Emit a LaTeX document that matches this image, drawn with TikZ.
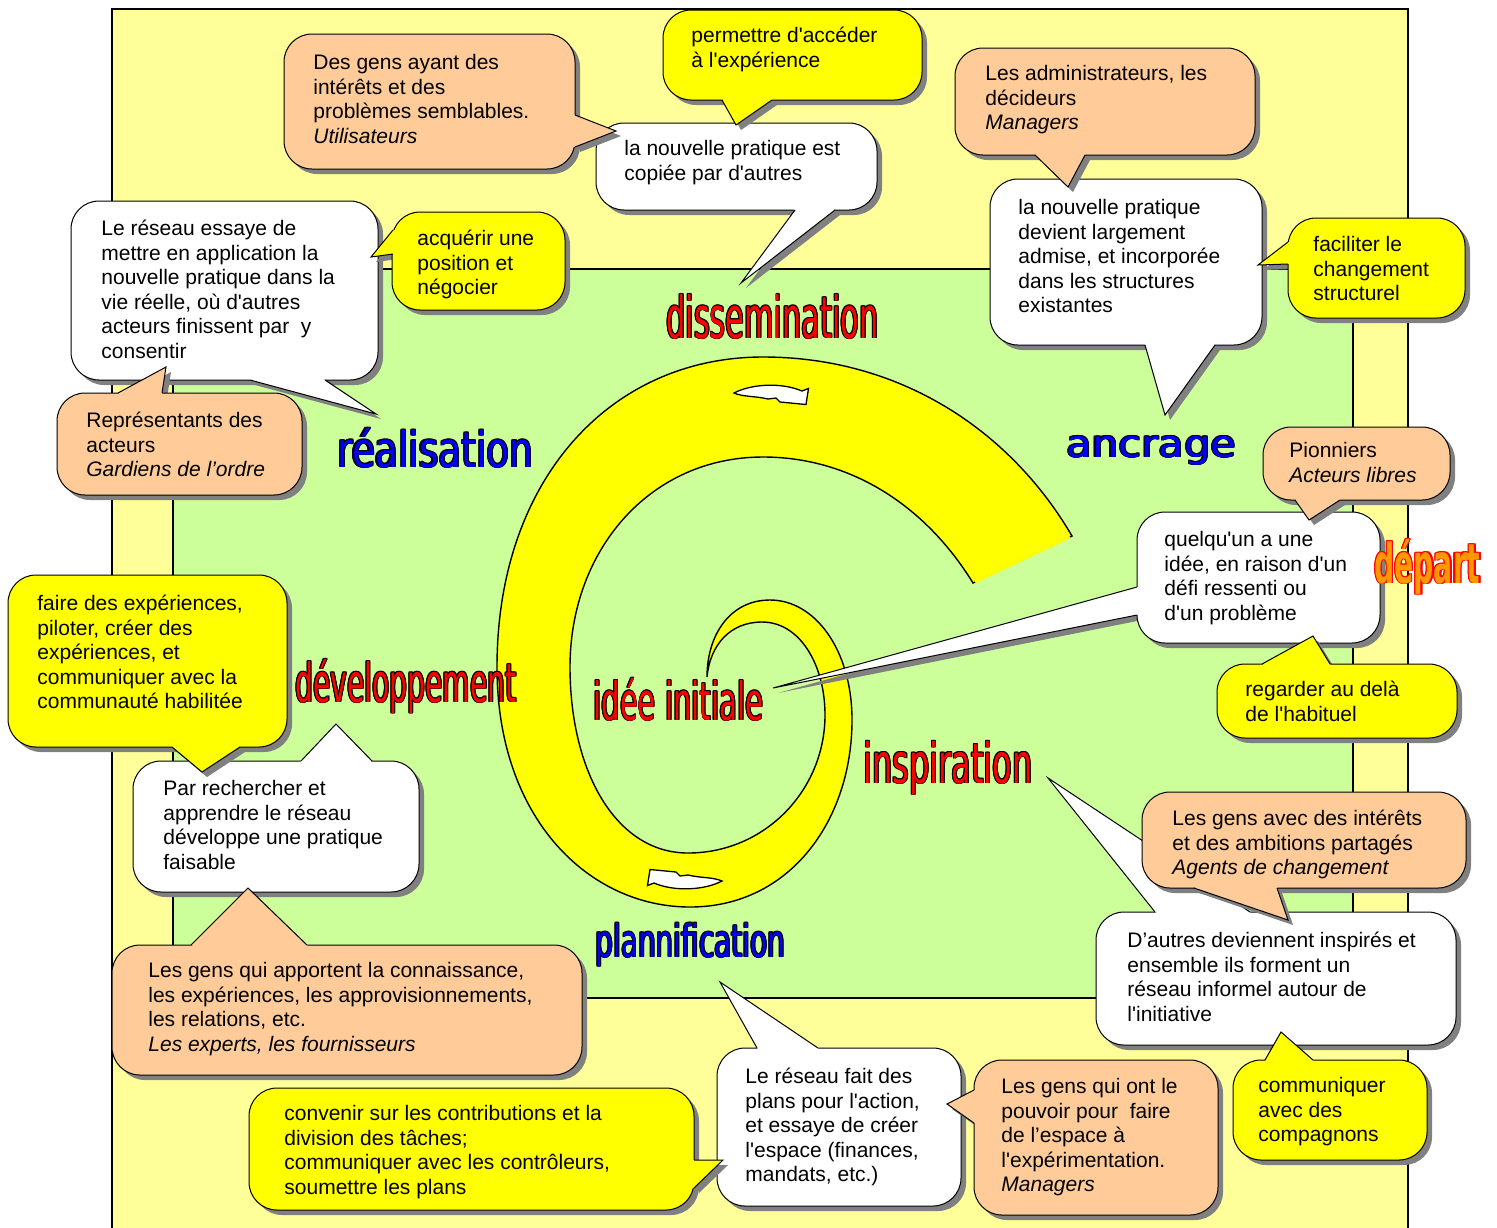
\documentclass[tikz,border=0pt]{standalone}
\usepackage{fontspec}
\usepackage{graphicx}
\setmainfont{Liberation Sans}
\setmonofont{Liberation Sans}
\newfontfamily\labfont{DejaVu Sans}
\usetikzlibrary{calc}
\definecolor{outerY}{HTML}{FFFF99}
\definecolor{innerG}{HTML}{CCFF99}
\definecolor{peach}{HTML}{FFCC99}
\definecolor{yel}{HTML}{FFFF00}
\definecolor{shad}{HTML}{808080}
\definecolor{dorange}{HTML}{FF9900}
\newcommand{\otext}[4][0.9pt]{\leavevmode
 \rlap{\color{#3}\kern#1\hbox{#4}}%
 \rlap{\color{#3}\kern-#1\hbox{#4}}%
 \rlap{\color{#3}\raisebox{0.5pt}{#4}}%
 \rlap{\color{#3}\raisebox{-0.5pt}{#4}}%
 \rlap{\color{#3}\kern#1\raisebox{0.5pt}{#4}}%
 \rlap{\color{#3}\kern-#1\raisebox{0.5pt}{#4}}%
 \rlap{\color{#3}\kern#1\raisebox{-0.5pt}{#4}}%
 \rlap{\color{#3}\kern-#1\raisebox{-0.5pt}{#4}}%
 {\color{#2}#4}}
\tikzset{
 cbord/.style={line width=0.5pt, draw=black},
 ctext/.style={anchor=north west, inner sep=0pt, align=left, font=\ttfamily\fontsize{10.5}{12.25}\selectfont},
 biglab/.style={anchor=base west, inner sep=0pt},
 spir/.style={draw=black, line width=0.7pt},
 sarr/.style={draw=black, fill=white, line width=0.65pt, line join=miter},
}
\newcommand{\callout}[6]{%
  \fill[shad, rounded corners=14pt, shift={(5,5)}] (#2) rectangle (#3);
  \fill[shad, shift={(5,5)}] (#4) -- (#5) -- (#6) -- cycle;
  \draw[fill=#1, rounded corners=14pt, cbord] (#2) rectangle (#3);
  \fill[#1] (#4) -- (#5) -- (#6) -- ($(#2)!0.5!(#3)$) -- cycle;
  \draw[cbord, line join=miter] (#4) -- (#5) -- (#6);
}
\begin{document}
\begin{tikzpicture}[x=0.5pt,y=-0.5pt]
\useasboundingbox (0,0) rectangle (1497,1227);
\fill[white] (0,0) rectangle (1497,1227);
\begin{scope}
\clip (0,0) rectangle (1497,1227);
\draw[draw=black, fill=outerY, line width=0.6pt] (112,9) rectangle (1408,1260);
\end{scope}
\draw[draw=black, fill=innerG, line width=0.7pt] (173,269) rectangle (1353,998);

% spiral
\draw[spir, fill=yel] (1072,536) .. controls (1010,430) and (900,357) .. (763,357)
  .. controls (610,357) and (497,480) .. (497,667)
  .. controls (497,820) and (590,907) .. (690,907)
  .. controls (790,907) and (852,820) .. (852,720)
  .. controls (852,650) and (815,600) .. (770,600)
  .. controls (730,600) and (707,635) .. (707,677)
  .. controls (710,645) and (730,622) .. (762,622)
  .. controls (800,622) and (825,665) .. (825,715)
  .. controls (825,790) and (765,853) .. (688,853)
  .. controls (615,853) and (570,770) .. (570,667)
  .. controls (570,550) and (650,457) .. (763,457)
  .. controls (850,457) and (925,505) .. (973,583) -- cycle;
\draw[yel, line width=1.2pt, shorten <=1.2pt, shorten >=1.2pt] (973,583) -- (1072,536);
\draw[sarr] (734,393) .. controls (751,384) and (781,382) .. (802,391) -- (808.5,388.5)
   -- (806,404.5) -- (780,402) -- (776,398) -- (768,399) .. controls (756,396) and (743,397) .. (734,393) -- cycle;
\draw[sarr] (722,881) .. controls (705,890) and (675,892) .. (654,883) -- (647.5,885.5)
   -- (650,869.5) -- (676,872) -- (680,876) -- (688,875) .. controls (700,878) and (713,877) .. (722,881) -- cycle;

% big labels
\node[biglab] (ldis) at (666,338) {\resizebox{106pt}{22.5pt}{\labfont\fontsize{30}{36}\selectfont\otext{red}{black}{dissemination}}};
\node[biglab] (lrea) at (337,467) {\resizebox{98pt}{20pt}{\labfont\fontsize{30}{36}\selectfont\otext{blue}{black}{réalisation}}};
\node[biglab] (lanc) at (1066,457) {\resizebox{85pt}{11pt}{\labfont\fontsize{20}{24}\selectfont\otext[0.5pt]{blue}{black}{ancrage}}};
\node[biglab] (ldev) at (295,702) {\resizebox{110.5pt}{22pt}{\labfont\fontsize{30}{36}\selectfont\otext{red}{black}{développement}}};
\node[biglab] (lide) at (593,720) {\resizebox{85pt}{21.5pt}{\labfont\fontsize{30}{36}\selectfont\otext{red}{black}{idée initiale}}};
\node[biglab] (lins) at (863,783) {\resizebox{84.5pt}{21.5pt}{\labfont\fontsize{30}{36}\selectfont\otext{red}{black}{inspiration}}};
\node[biglab] (lpla) at (595,957) {\resizebox{95pt}{17.5pt}{\labfont\fontsize{30}{36}\selectfont\otext{blue}{black}{plannification}}};

% white callouts
\callout{white}{596,123}{877,210}{795,210}{741,283}{835,210}
\node[ctext] (c3) at (624,138) {\strut la nouvelle pratique est\\copiée par d'autres};
\callout{white}{990,179}{1262,345}{1145,345}{1165,415}{1215,345}
\node[ctext] (c5) at (1018,197) {\strut la nouvelle pratique\\devient largement\\admise, et incorporée\\dans les structures\\existantes};
\callout{white}{71,201}{378,380}{250,380}{376,414}{325,380}
\node[ctext] (c7) at (101,218) {\strut Le réseau essaye de\\mettre en application la\\nouvelle pratique dans la\\vie réelle, où d'autres\\acteurs finissent par\ \ y\\consentir};
\callout{white}{1137,512}{1380,643}{1137,587}{773,688}{1137,615}
\node[ctext] (c11) at (1164,529) {\strut quelqu'un a une\\idée, en raison d'un\\défi ressenti ou\\d'un problème};
\callout{white}{133,761}{419,892}{301,761}{336,724}{372,761}
\node[ctext] (c14) at (163,778) {\strut Par rechercher et\\apprendre le réseau\\développe une pratique\\faisable};
\callout{white}{717,1048}{961,1206}{757,1048}{720,982}{818,1048}
\node[ctext] (c17) at (745,1066) {\strut Le réseau fait des\\plans pour l'action,\\et essaye de créer\\l'espace (finances,\\mandats, etc.)};
\callout{white}{1096,912}{1456,1045}{1155,912}{1048,778}{1250,912}
\node[ctext] (c19) at (1127,930) {\strut D’autres deviennent inspirés et\\ensemble ils forment un\\réseau informel autour de\\l'initiative};

% coloured callouts
\callout{peach}{284,34}{575,169}{575,115}{616,131}{575,147}
\node[ctext] (c1) at (313,52) {\strut Des gens ayant des\\intérêts et des\\problèmes semblables.\\\textit{Utilisateurs}};
\callout{yel}{663,10}{922,100}{722,100}{736,125}{772,100}
\node[ctext] (c2) at (691,25) {\strut permettre d'accéder\\à l'expérience};
\callout{peach}{955,48}{1255,155}{1035,155}{1068,187}{1085,155}
\node[ctext] (c4) at (985,63) {\strut Les administrateurs, les\\décideurs\\\textit{Managers}};
\callout{yel}{1288,218}{1465,318}{1288,242}{1258,265}{1288,264}
\node[ctext] (c6) at (1313,234) {\strut faciliter le\\changement\\structurel};
\callout{yel}{392,212}{565,310}{393,230}{371,257}{393,254}
\node[ctext] (c8) at (417,228) {\strut acquérir une\\position et\\négocier};
\callout{peach}{57,393}{302,495}{118,393}{166,367}{162,393}
\node[ctext] (c9) at (86,410) {\strut Représentants des\\acteurs\\\textit{Gardiens de l’ordre}};
\callout{peach}{1263,427}{1450,500}{1295,500}{1309,520}{1340,500}
\node[ctext] (c10) at (1289,440) {\strut Pionniers\\\textit{Acteurs libres}};
\callout{yel}{1217,664}{1457,738}{1262,664}{1313,636}{1330,664}
\node[ctext] (c12) at (1245,679) {\strut regarder au delà\\de l'habituel};
\callout{yel}{8,575}{287,747}{172,747}{202,772}{240,747}
\node[ctext] (c13) at (37,593) {\strut faire des expériences,\\piloter, créer des\\expériences, et\\communiquer avec la\\communauté habilitée};
\callout{peach}{112,945}{582,1075}{191,945}{248,888}{307,945}
\node[ctext] (c15) at (148,960) {\strut Les gens qui apportent la connaissance,\\les expériences, les approvisionnements,\\les relations, etc.\\\textit{Les experts, les fournisseurs}};
\callout{yel}{249,1088}{694,1210}{694,1160}{723,1160}{694,1188}
\node[ctext] (c16) at (284,1103) {\strut convenir sur les contributions et la\\division des tâches;\\communiquer avec les contrôleurs,\\soumettre les plans};
\callout{peach}{974,1060}{1218,1215}{974,1090}{947,1104}{974,1123}
\node[ctext] (c18) at (1001,1076) {\strut Les gens qui ont le\\pouvoir pour\ \ faire\\de l’espace à\\l'expérimentation.\\\textit{Managers}};
\callout{peach}{1142,792}{1466,888}{1194,888}{1288,920}{1277,888}
\node[ctext] (c20) at (1172,808) {\strut Les gens avec des intérêts\\et des ambitions partagés\\\textit{Agents de changement}};
\callout{yel}{1233,1060}{1427,1160}{1265,1060}{1281,1032}{1313,1060}
\node[ctext] (c21) at (1258,1075) {\strut communiquer\\avec des\\compagnons};

\node[biglab] (ldep) at (1374,583) {\resizebox{53pt}{22.5pt}{\labfont\bfseries\fontsize{30}{36}\selectfont\otext[1.4pt]{dorange}{red}{départ}}};
\end{tikzpicture}
\end{document}
